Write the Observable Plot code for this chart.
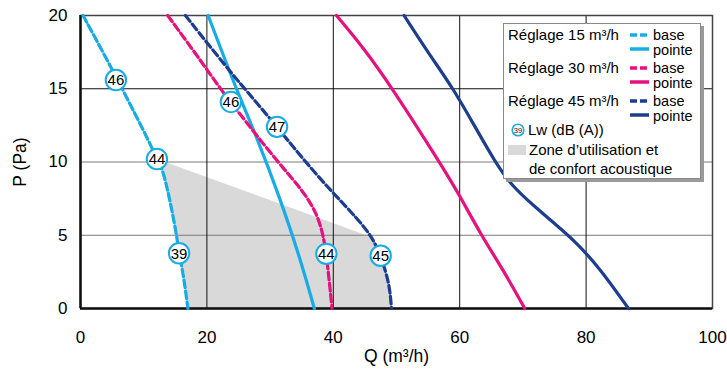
<!DOCTYPE html>
<html>
<head>
<meta charset="utf-8">
<script src="https://cdn.jsdelivr.net/npm/d3@7"></script>
<script src="https://cdn.jsdelivr.net/npm/@observablehq/plot@0.6"></script>
<style>
  body { margin: 0; background: #fff; }
  #wrap { position: relative; width: 727px; height: 369px; font-family: "Liberation Sans", Arial, sans-serif; }
  #legend { position: absolute; left: 503px; top: 23px; width: 196px; height: 154px; background: #fff;
            border: 1px solid #8a8a8a; box-shadow: 3px 3px 0 #9a9a9a; font-size: 15px; color: #000; }
  #legend .t { position: absolute; white-space: nowrap; line-height: 14px; }
  #legend .s { font-size: 14.5px; }
  #legend svg { position: absolute; }
</style>
</head>
<body>
<div id="wrap"></div>
<script>
// ---- data ----
const xTicks = [0, 20, 40, 60, 80, 100];
const yTicks = [0, 5, 10, 15, 20];

const q15base = [0.4, 4.7, 8.9, 11.0, 12.1, 13.1, 14.15, 15.1, 15.6, 16.25, 17.0];
const p15base = [20, 16.6, 13.06, 11.26, 10.2, 9.4, 7.37, 5.3, 3.75, 2.4, 0];
const q15pointe = [20.2, 24.7, 27.9, 31.5, 34.7, 37.0];
const p15pointe = [20, 14.9, 11.7, 7.6, 3.5, 0];

const q30base = [13.8, 19.4, 22.1, 26.0, 31.0, 35.2, 37.4, 38.5, 39.1, 39.8];
const p30base = [20, 16.7, 15.0, 12.85, 10.1, 8.05, 6.5, 4.9, 3.0, 0];
const q30pointe = [40.5, 44.7, 49.4, 56.8, 59.7, 63.4, 66.8, 70.3];
const p30pointe = [20, 17.84, 15.0, 10.0, 7.94, 5.0, 2.7, 0];

const q45base = [16.6, 23.6, 26.0, 31.1, 35.2, 39.9, 43.7, 46.2, 47.5, 48.9, 49.2];
const p45base = [20, 16.2, 15.0, 12.4, 10.2, 7.9, 6.2, 4.85, 3.6, 1.7, 0];
const q45pointe = [51.2, 55.1, 59.0, 62.3, 65.6, 68.2, 71.5, 75.0, 78.0, 82.1, 86.7];
const p45pointe = [20, 17.4, 15.0, 12.5, 10.0, 8.4, 7.1, 5.8, 4.7, 2.8, 0];

const lwQ = [5.6, 12.1, 15.6, 23.8, 38.9, 31.1, 47.5];
const lwP = [15.6, 10.2, 3.77, 14.1, 3.73, 12.4, 3.6];
const lwVal = [46, 44, 39, 46, 44, 47, 45];

const zoneQ = [12.1, 13.1, 14.15, 15.1, 15.6, 16.25, 17.0, 49.2, 48.9, 47.5, 46.2, 12.1];
const zoneP = [10.2, 9.4, 7.37, 5.3, 3.75, 2.4, 0, 0, 1.7, 3.6, 4.85, 10.2];

const reglages = ["Réglage 15 m³/h", "Réglage 30 m³/h", "Réglage 45 m³/h"];

// ---- styles ----
const CYAN = "#19ace4", PINK = "#e5117d", NAVY = "#1d3d8f", ZONE = "#d9d9d9";
const series = [
  {q: q15base, p: p15base, color: CYAN, dash: true},
  {q: q15pointe, p: p15pointe, color: CYAN, dash: false},
  {q: q30base, p: p30base, color: PINK, dash: true},
  {q: q30pointe, p: p30pointe, color: PINK, dash: false},
  {q: q45base, p: p45base, color: NAVY, dash: true},
  {q: q45pointe, p: p45pointe, color: NAVY, dash: false}
];
const toPts = (q, p) => q.map((v, i) => ({q: v, p: p[i]}));
const lw = lwQ.map((v, i) => ({q: v, p: lwP[i], v: lwVal[i]}));
const zone = toPts(zoneQ, zoneP);

const FONT = "Liberation Sans, Arial, sans-serif";

const chart = Plot.plot({
  width: 727, height: 369,
  marginLeft: 80, marginRight: 15, marginTop: 15, marginBottom: 61,
  style: {fontFamily: FONT, color: "#000", background: "#fff"},
  x: {domain: [0, 100], ticks: xTicks},
  y: {domain: [0, 20], ticks: yTicks},
  marks: [
    Plot.line(zone, {x: "q", y: "p", fill: ZONE, stroke: "none"}),
    Plot.ruleY([5, 10], {stroke: "#7a7a7a", strokeWidth: 1}),
    Plot.ruleY([15], {stroke: "#111", strokeWidth: 1}),
    Plot.ruleX([20, 40, 60, 80], {stroke: "#111", strokeWidth: 1}),
    Plot.frame({stroke: "#444", strokeWidth: 1.5}),
    Plot.ruleX([0], {stroke: "#111", strokeWidth: 2.5}),
    Plot.ruleY([0], {stroke: "#111", strokeWidth: 2.5}),
    ...series.map(s => Plot.line(toPts(s.q, s.p), {
      x: "q", y: "p", stroke: s.color, strokeWidth: 3.2, curve: "basis",
      strokeDasharray: s.dash ? "7.5,3.5" : null
    })),
    Plot.dot(lw, {x: "q", y: "p", r: 10.2, fill: "white", stroke: CYAN, strokeWidth: 2}),
    Plot.text(lw, {x: "q", y: "p", text: "v", fontSize: 15, fill: "#000", dy: 0.5}),
    Plot.axisX({ticks: xTicks, tickSize: 0, tickPadding: 22, fontSize: 17, label: null, fill: "#000"}),
    Plot.axisY({ticks: yTicks, tickSize: 0, tickPadding: 13, fontSize: 17, label: null, fill: "#000"}),
    Plot.text(["Q (m³/h)"], {frameAnchor: "bottom", lineAnchor: "middle", textAnchor: "middle", dy: 48, fontSize: 17.5, fill: "#000"}),
    Plot.text(["P (Pa)"], {frameAnchor: "left", textAnchor: "middle", lineAnchor: "middle", dx: -60, rotate: -90, fontSize: 17.5, fill: "#000"})
  ]
});

const wrap = document.getElementById("wrap");
wrap.appendChild(chart);

// ---- legend ----
const lg = document.createElement("div");
lg.id = "legend";
wrap.appendChild(lg);
const colors = [CYAN, PINK, NAVY];
function addText(txt, left, top, cls) {
  const d = document.createElement("div");
  d.className = "t" + (cls ? " " + cls : ""); d.textContent = txt;
  d.style.left = left + "px"; d.style.top = top + "px";
  lg.appendChild(d);
}
function addSwatch(color, dash, left, top) {
  const s = d3.create("svg").attr("width", 20).attr("height", 6)
    .style("left", left + "px").style("top", top + "px");
  s.append("line").attr("x1", 0).attr("x2", 19).attr("y1", 3).attr("y2", 3)
    .attr("stroke", color).attr("stroke-width", 3.5)
    .attr("stroke-dasharray", dash ? "7,3" : null);
  lg.appendChild(s.node());
}
reglages.forEach((r, i) => {
  const top = 4 + i * 33;
  addText(r, 4, top);
  addSwatch(colors[i], true, 126, top + 4);
  addText("base", 149, top - 0.5, "s");
  addSwatch(colors[i], false, 126, top + 18);
  addText("pointe", 149, top + 14.5, "s");
});
// Lw icon
const ic = d3.create("svg").attr("width", 14).attr("height", 14).style("left", "7px").style("top", "99px");
ic.append("circle").attr("cx", 7).attr("cy", 7).attr("r", 5.8).attr("fill", "white").attr("stroke", CYAN).attr("stroke-width", 1.6);
ic.append("text").attr("x", 7).attr("y", 9.6).attr("text-anchor", "middle").attr("font-size", 7.5).attr("font-family", FONT).attr("fill", "#111").text(lwVal[2]);
lg.appendChild(ic.node());
addText("Lw (dB (A))", 24, 99);
const zs = document.createElement("div");
zs.style.cssText = `position:absolute;left:4px;top:121px;width:18px;height:10px;background:${ZONE}`;
lg.appendChild(zs);
addText("Zone d’utilisation et", 25, 119);
addText("de confort acoustique", 25, 138);
</script>
</body>
</html>
